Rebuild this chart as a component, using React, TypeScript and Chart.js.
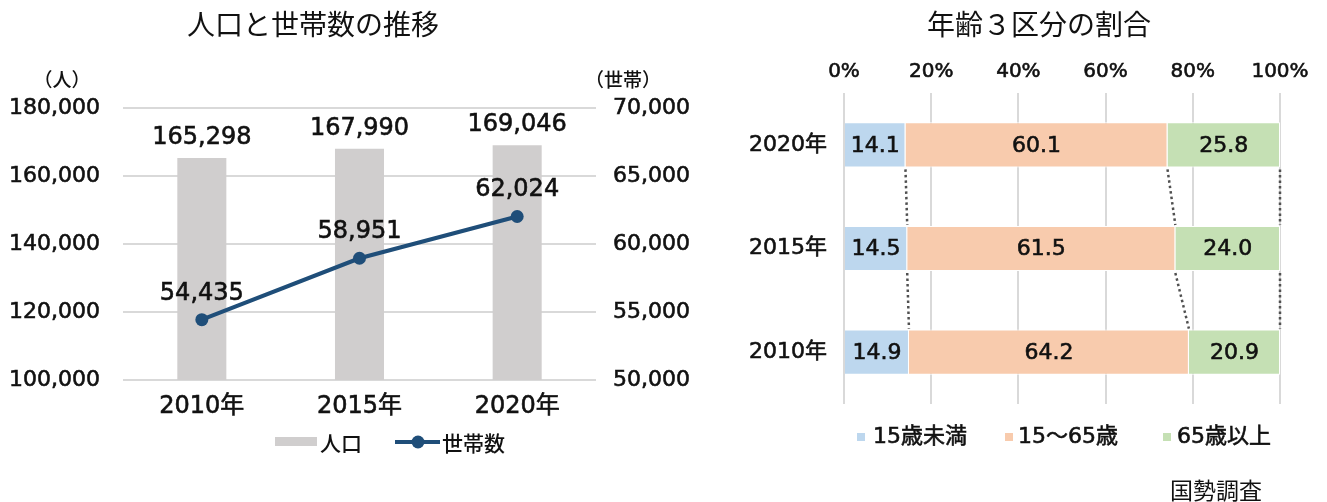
import React, { useEffect, useRef } from "react";
import { Chart, registerables } from "chart.js";

Chart.register(...registerables);

// ---- Data: population & households ----
const years = ["2010年", "2015年", "2020年"];
const population = [165298, 167990, 169046];
const households = [54435, 58951, 62024];
const popTicks = [100000, 120000, 140000, 160000, 180000];
const hhTicks = [50000, 55000, 60000, 65000, 70000];
const popLegend = "人口";
const hhLegend = "世帯数";
const leftTitle = "人口と世帯数の推移";
const leftUnit = "（人）";
const rightUnit = "（世帯）";

// ---- Data: age structure ----
const ageYears = ["2020年", "2015年", "2010年"];
const under15 = [14.1, 14.5, 14.9];
const working = [60.1, 61.5, 64.2];
const elderly = [25.8, 24.0, 20.9];
const ageLabels = ["15歳未満", "15～65歳", "65歳以上"];
const pctTicks = [0, 20, 40, 60, 80, 100];
const rightTitle = "年齢３区分の割合";
const source = "国勢調査";

const NUM = "'DejaVu Sans', 'Noto Sans CJK JP', sans-serif";
const CJK = "'Noto Sans CJK JP', 'DejaVu Sans', sans-serif";
const TXT = "#111111";
const GRID = "#D9D9D9";
const BAR_GRAY = "#D0CECE";
const LINE_BLUE = "#1F4E79";
const AGE_COLORS = ["#BDD7EE", "#F8CBAD", "#C5E0B4"];
const STROKE_W = 0.6;

const fmt = (v: number) => v.toLocaleString("en-US");

function boldText(ctx: CanvasRenderingContext2D, text: string, x: number, y: number) {
  ctx.fillText(text, x, y);
  ctx.lineWidth = STROKE_W;
  ctx.strokeStyle = ctx.fillStyle as string;
  ctx.strokeText(text, x, y);
}

function LeftChart() {
  const ref = useRef<HTMLCanvasElement | null>(null);
  useEffect(() => {
    if (!ref.current) return;
    const extras = {
      id: "leftExtras",
      afterDraw(chart: any) {
        const ctx = chart.ctx;
        ctx.save();
        ctx.fillStyle = TXT;
        // title
        ctx.font = `400 28px ${CJK}`;
        ctx.textAlign = "center";
        ctx.textBaseline = "middle";
        ctx.fillText(leftTitle, 313, 24);
        // units
        ctx.font = `500 19px ${CJK}`;
        ctx.fillText(leftUnit, 62, 80);
        ctx.fillText(rightUnit, 623, 80);
        // bar labels
        ctx.font = `400 24px ${NUM}`;
        ctx.textBaseline = "alphabetic";
        const barMeta = chart.getDatasetMeta(1);
        barMeta.data.forEach((el: any, i: number) => {
          boldText(ctx, fmt(population[i]), el.x, el.y - 14);
        });
        const lineMeta = chart.getDatasetMeta(0);
        lineMeta.data.forEach((el: any, i: number) => {
          boldText(ctx, fmt(households[i]), el.x, el.y - 20);
        });
        // legend
        ctx.fillStyle = BAR_GRAY;
        ctx.fillRect(275, 437, 42, 9);
        ctx.strokeStyle = LINE_BLUE;
        ctx.lineWidth = 4;
        ctx.beginPath();
        ctx.moveTo(395, 442);
        ctx.lineTo(440, 442);
        ctx.stroke();
        ctx.fillStyle = LINE_BLUE;
        ctx.beginPath();
        ctx.arc(418, 442, 6.5, 0, Math.PI * 2);
        ctx.fill();
        ctx.fillStyle = TXT;
        ctx.font = `500 21px ${CJK}`;
        ctx.textAlign = "left";
        ctx.textBaseline = "middle";
        ctx.fillText(popLegend, 320, 443);
        ctx.fillText(hhLegend, 442, 443);
        ctx.restore();
      },
    };
    const tickBase = { color: TXT, textStrokeColor: TXT, textStrokeWidth: STROKE_W };
    const chart = new Chart(ref.current, {
      type: "bar",
      data: {
        labels: years,
        datasets: [
          {
            type: "line",
            label: hhLegend,
            data: households,
            yAxisID: "y1",
            borderColor: LINE_BLUE,
            backgroundColor: LINE_BLUE,
            borderWidth: 4,
            pointRadius: 6.5,
            pointHoverRadius: 6.5,
            pointBorderWidth: 0,
            order: 0,
          } as any,
          {
            type: "bar",
            label: popLegend,
            data: population,
            yAxisID: "y",
            backgroundColor: BAR_GRAY,
            barPercentage: 0.311,
            categoryPercentage: 1,
            order: 1,
          } as any,
        ],
      },
      options: {
        responsive: false,
        animation: false,
        layout: { padding: { top: 108, bottom: 0, left: 0, right: 0 } },
        plugins: {
          legend: { display: false },
          title: { display: false },
          tooltip: { enabled: false },
        },
        scales: {
          x: {
            grid: { display: false, drawTicks: false },
            border: { display: false },
            ticks: { ...tickBase, font: { family: NUM, size: 24 }, padding: 12 },
            afterFit(s: any) {
              s.height = 122;
            },
          },
          y: {
            position: "left",
            min: popTicks[0],
            max: popTicks[popTicks.length - 1],
            afterBuildTicks(s: any) {
              s.ticks = popTicks.map((v) => ({ value: v }));
            },
            ticks: {
              ...tickBase,
              font: { family: NUM, size: 22 },
              padding: 23,
              callback: (v: any) => fmt(Number(v)),
            },
            grid: { color: GRID, lineWidth: 2, drawTicks: false },
            border: { display: false },
            afterFit(s: any) {
              s.width = 123;
            },
          },
          y1: {
            position: "right",
            min: hhTicks[0],
            max: hhTicks[hhTicks.length - 1],
            afterBuildTicks(s: any) {
              s.ticks = hhTicks.map((v) => ({ value: v }));
            },
            ticks: {
              ...tickBase,
              font: { family: NUM, size: 22 },
              padding: 17,
              callback: (v: any) => fmt(Number(v)),
            },
            grid: { display: false, drawTicks: false },
            border: { display: false },
            afterFit(s: any) {
              s.width = 104;
            },
          },
        },
      } as any,
      plugins: [extras],
    });
    return () => chart.destroy();
  }, []);
  return <canvas ref={ref} width={700} height={502} style={{ display: "block" }} />;
}

function RightChart() {
  const ref = useRef<HTMLCanvasElement | null>(null);
  useEffect(() => {
    if (!ref.current) return;
    const series = [under15, working, elderly];
    const extras = {
      id: "rightExtras",
      afterDatasetsDraw(chart: any) {
        const ctx = chart.ctx;
        const xs = chart.scales.x;
        ctx.save();
        // connector dotted lines between bars
        ctx.strokeStyle = "#505050";
        ctx.lineWidth = 2.5;
        ctx.setLineDash([2.5, 3]);
        const metas = series.map((_, d) => chart.getDatasetMeta(d));
        for (let i = 0; i < ageYears.length - 1; i++) {
          let cumA = 0;
          let cumB = 0;
          for (let d = 0; d < series.length; d++) {
            cumA += series[d][i];
            cumB += series[d][i + 1];
            const elA = metas[d].data[i];
            const elB = metas[d].data[i + 1];
            const x1 = xs.getPixelForValue(Math.min(cumA, 100));
            const x2 = xs.getPixelForValue(Math.min(cumB, 100));
            const y1 = elA.y + elA.height / 2 + 2;
            const y2 = elB.y - elB.height / 2 - 1;
            ctx.beginPath();
            ctx.moveTo(x1, y1);
            ctx.lineTo(x2, y2);
            ctx.stroke();
          }
        }
        ctx.setLineDash([]);
        // value labels
        ctx.fillStyle = TXT;
        ctx.font = `400 22px ${NUM}`;
        ctx.textAlign = "center";
        ctx.textBaseline = "middle";
        metas.forEach((m: any, d: number) => {
          m.data.forEach((el: any, i: number) => {
            const c = el.getCenterPoint();
            boldText(ctx, series[d][i].toFixed(1), c.x, c.y + 1);
          });
        });
        ctx.restore();
      },
      afterDraw(chart: any) {
        const ctx = chart.ctx;
        ctx.save();
        ctx.fillStyle = TXT;
        ctx.font = `400 28px ${CJK}`;
        ctx.textAlign = "center";
        ctx.textBaseline = "middle";
        ctx.fillText(rightTitle, 339, 24);
        // legend
        const sq = [157, 305, 463];
        const tx = [173, 318, 477];
        ctx.font = `400 22px ${NUM}`;
        ctx.textAlign = "left";
        ageLabels.forEach((lab, i) => {
          ctx.fillStyle = AGE_COLORS[i];
          ctx.fillRect(sq[i], 433, 8, 8);
          ctx.fillStyle = TXT;
          boldText(ctx, lab, tx[i], 437);
        });
        ctx.font = `400 23px ${CJK}`;
        ctx.fillText(source, 470, 490);
        ctx.restore();
      },
    };
    const tickBase = { color: TXT, textStrokeColor: TXT, textStrokeWidth: STROKE_W };
    const chart = new Chart(ref.current, {
      type: "bar",
      data: {
        labels: ageYears,
        datasets: series.map((data, d) => ({
          label: ageLabels[d],
          data,
          backgroundColor: AGE_COLORS[d],
          borderColor: "#FFFFFF",
          borderWidth: 1,
          barPercentage: 0.435,
          categoryPercentage: 1,
        })),
      },
      options: {
        indexAxis: "y",
        responsive: false,
        animation: false,
        layout: { padding: { top: 0, bottom: 98, left: 0, right: 47 } },
        plugins: {
          legend: { display: false },
          title: { display: false },
          tooltip: { enabled: false },
        },
        scales: {
          x: {
            position: "top",
            stacked: true,
            min: pctTicks[0],
            max: pctTicks[pctTicks.length - 1],
            afterBuildTicks(s: any) {
              s.ticks = pctTicks.map((v) => ({ value: v }));
            },
            ticks: {
              ...tickBase,
              font: { family: NUM, size: 20 },
              padding: 9,
              callback: (v: any) => `${v}%`,
            },
            grid: { color: GRID, lineWidth: 2, drawTicks: false },
            border: { display: false },
            afterFit(s: any) {
              s.height = 93;
            },
          },
          y: {
            stacked: true,
            grid: { display: false, drawTicks: false },
            border: { display: false },
            ticks: { ...tickBase, font: { family: NUM, size: 22 }, padding: 17 },
            afterFit(s: any) {
              s.width = 144;
            },
          },
        },
      } as any,
      plugins: [extras],
    });
    return () => chart.destroy();
  }, []);
  return <canvas ref={ref} width={627} height={502} style={{ display: "block" }} />;
}

export default function App() {
  return (
    <div
      style={{
        position: "absolute",
        left: 0,
        top: 0,
        width: 1327,
        height: 502,
        background: "#FFFFFF",
        display: "flex",
        overflow: "hidden",
      }}
    >
      <LeftChart />
      <RightChart />
    </div>
  );
}
